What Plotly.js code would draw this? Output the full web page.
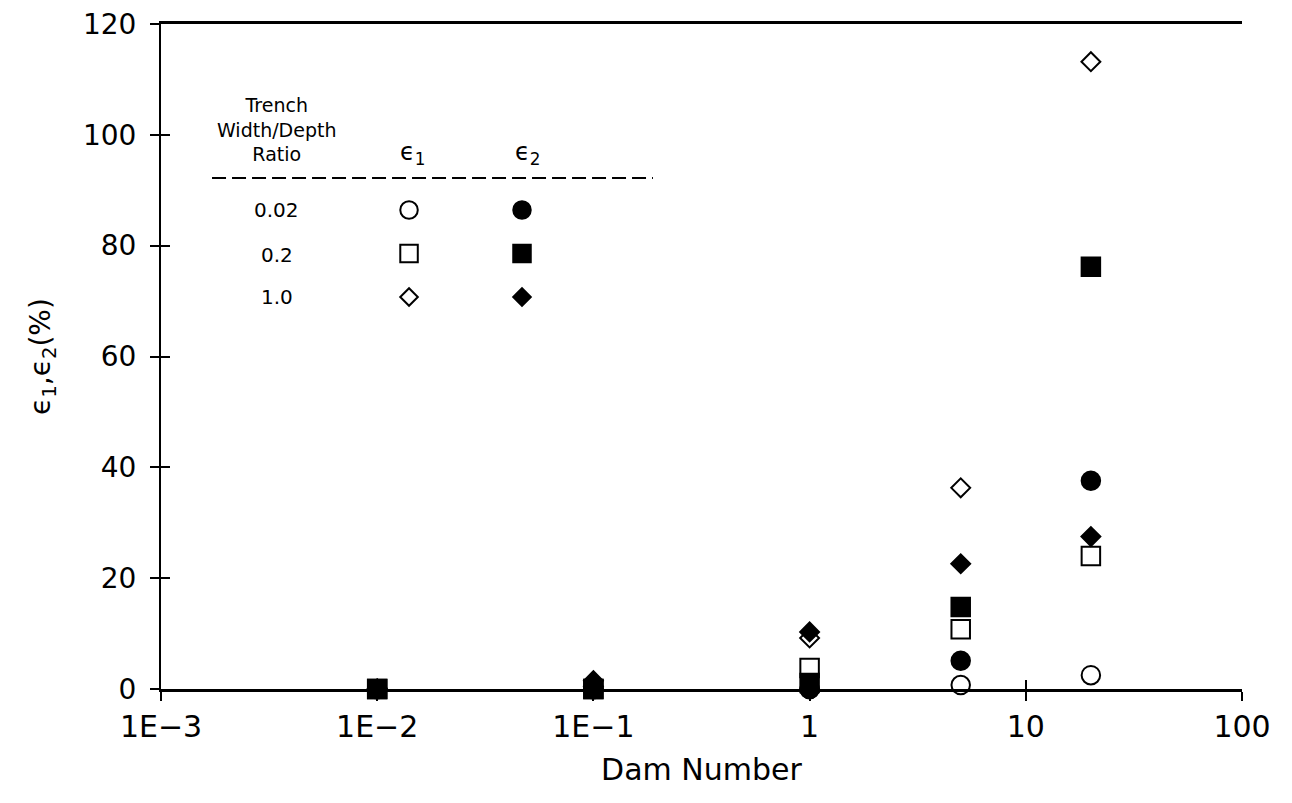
<!DOCTYPE html>
<html>
<head>
<meta charset="utf-8">
<script src="https://cdn.plot.ly/plotly-3.0.1.min.js"></script>
<style>html,body{margin:0;padding:0;background:#fff;}#chart{width:1292px;height:803px;}</style>
</head>
<body>
<div id="chart"></div>
<script>
// ---- data ----
const damNumber = [0.01, 0.1, 1, 5, 20];
const eps1_r002 = [0, 0, 0, 0.7, 2.5];     // open circle
const eps2_r002 = [0, 0, 0, 5.1, 37.6];    // filled circle
const eps1_r02  = [0, 0, 3.8, 10.8, 24.0]; // open square
const eps2_r02  = [0, 0, 1.1, 14.8, 76.2]; // filled square
const eps1_r10  = [0, 0.5, 9.2, 36.3, 113.2]; // open diamond
const eps2_r10  = [0, 1.5, 10.3, 22.6, 27.5]; // filled diamond

const xTickVals = [0.001, 0.01, 0.1, 1, 10, 100];
const xTickText = ['1E\u22123', '1E\u22122', '1E\u22121', '1', '10', '100'];
const yTickVals = [0, 20, 40, 60, 80, 100, 120];

const ratioLabels = ['0.02', '0.2', '1.0'];
const epsColumns = ['\u03F5<sub>1</sub>', '\u03F5<sub>2</sub>'];
const symbolsE1 = ['circle-open', 'square-open', 'diamond-open'];
const symbolsE2 = ['circle', 'square', 'diamond'];

// ---- styling ----
const FONT = 'DejaVu Sans, Liberation Sans, sans-serif';
const black = '#000';
function sizeFor(sym){ return sym.indexOf('diamond') === 0 ? 14.5 : 18.5; }
function mk(y, sym){
  return {
    x: damNumber, y: y, type: 'scatter', mode: 'markers', cliponaxis: false,
    showlegend: false, hoverinfo: 'x+y',
    marker: {symbol: sym, size: sizeFor(sym), color: black, opacity: 1, line: {color: black, width: 2}}
  };
}
const traces = [
  mk(eps2_r002, 'circle'),
  mk(eps1_r002, 'circle-open'),
  mk(eps2_r10, 'diamond'),
  mk(eps1_r10, 'diamond-open'),
  mk(eps1_r02, 'square-open'),
  mk(eps2_r02, 'square'),
];

// legend table markers on hidden category axes
const legX = [], legY = [], legSym = [], legSize = [];
ratioLabels.forEach((r, i) => {
  legX.push('e1'); legY.push(r); legSym.push(symbolsE1[i]); legSize.push(sizeFor(symbolsE1[i]) - 1);
  legX.push('e2'); legY.push(r); legSym.push(symbolsE2[i]); legSize.push(sizeFor(symbolsE2[i]) - 1);
});
traces.push({
  x: legX, y: legY, xaxis: 'x3', yaxis: 'y3', type: 'scatter', mode: 'markers',
  showlegend: false, hoverinfo: 'skip', cliponaxis: false,
  marker: {symbol: legSym, size: legSize, color: black, opacity: 1, line: {color: black, width: 2}}
});
// empty trace on overlay axes (crossing ticks)
traces.push({x: [], y: [], xaxis: 'x2', yaxis: 'y2', type: 'scatter', mode: 'markers', showlegend: false});

const annotations = [
  {text: 'Trench<br>Width/Depth<br>Ratio', xref: 'paper', yref: 'paper', x: 0.1064, y: 0.8421,
   xanchor: 'center', yanchor: 'middle', showarrow: false, font: {family: FONT, size: 19, color: black}},
  {text: epsColumns[0], xref: 'paper', yref: 'paper', x: 0.2331, y: 0.806,
   xanchor: 'center', yanchor: 'middle', showarrow: false, font: {family: FONT, size: 24, color: black}},
  {text: epsColumns[1], xref: 'paper', yref: 'paper', x: 0.3395, y: 0.806,
   xanchor: 'center', yanchor: 'middle', showarrow: false, font: {family: FONT, size: 24, color: black}},
];
const rowY = [0.7203, 0.6526, 0.5895];
ratioLabels.forEach((r, i) => annotations.push({
  text: r, xref: 'paper', yref: 'paper', x: 0.1073, y: rowY[i], xanchor: 'center', yanchor: 'middle',
  showarrow: false, font: {family: FONT, size: 20, color: black}
}));

const axisCommon = {showgrid: false, zeroline: false, linecolor: black, tickcolor: black, ticklen: 9, tickwidth: 2};

const layout = {
  width: 1292, height: 803,
  margin: {l: 161, r: 50, t: 24, b: 114},
  paper_bgcolor: '#fff', plot_bgcolor: '#fff',
  font: {family: FONT, color: black},
  showlegend: false,
  xaxis: Object.assign({}, axisCommon, {
    type: 'log', range: [-3, 2], tickmode: 'array', tickvals: xTickVals, ticktext: xTickText,
    ticks: 'outside', showline: true, linewidth: 3, mirror: true,
    tickfont: {family: FONT, size: 30, color: black}, ticklabelstandoff: 0,
    title: {text: 'Dam Number', font: {family: FONT, size: 30, color: black}, standoff: 16}
  }),
  yaxis: Object.assign({}, axisCommon, {
    range: [0, 120], tickmode: 'array', tickvals: yTickVals,
    ticks: 'outside', showline: true, linewidth: 2,
    tickfont: {family: FONT, size: 28, color: black}, ticklabelstandoff: 8,
    title: {text: '\u03F5<sub>1</sub>,\u03F5<sub>2</sub>(%)', font: {family: FONT, size: 28, color: black}, standoff: 24}
  }),
  xaxis2: Object.assign({}, axisCommon, {
    type: 'log', range: [-3, 2], tickmode: 'array', tickvals: xTickVals, overlaying: 'x', anchor: 'y',
    side: 'bottom', ticks: 'inside', showticklabels: false, showline: false
  }),
  yaxis2: Object.assign({}, axisCommon, {
    range: [0, 120], tickmode: 'array', tickvals: yTickVals, overlaying: 'y', anchor: 'x',
    side: 'left', ticks: 'inside', showticklabels: false, showline: false
  }),
  xaxis3: {domain: [0.1772, 0.3862], anchor: 'y3', type: 'category', categoryorder: 'array',
    categoryarray: ['e1', 'e2'], range: [-0.5, 1.5], visible: false, fixedrange: true},
  yaxis3: {domain: [0.5568, 0.7530], anchor: 'x3', type: 'category', categoryorder: 'array',
    categoryarray: ['1.0', '0.2', '0.02'], range: [-0.5, 2.5], visible: false, fixedrange: true},
  annotations: annotations,
  shapes: [
    {type: 'line', xref: 'paper', yref: 'paper', x0: 0.0472, x1: 0.4551, y0: 0.7684, y1: 0.7684,
     line: {color: black, width: 2, dash: '14px,6px'}}
  ]
};

Plotly.newPlot('chart', traces, layout, {displayModeBar: false, staticPlot: true});
</script>
</body>
</html>
